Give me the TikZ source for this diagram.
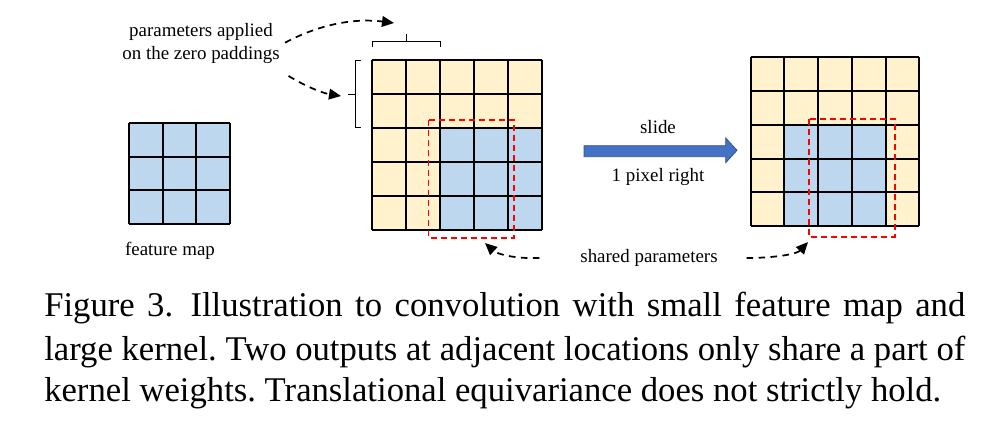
\documentclass[tikz,border=0pt]{standalone}
\usepackage{fontspec}
\setmainfont{Liberation Serif}
\usetikzlibrary{arrows.meta}
\definecolor{padyellow}{HTML}{FFF2CC}
\definecolor{featblue}{HTML}{BDD7EE}
\definecolor{arrowblue}{HTML}{4472C4}
\definecolor{arrowedge}{HTML}{2F528F}
\definecolor{kernred}{HTML}{FF0000}
\begin{document}
\frenchspacing
\begin{tikzpicture}[x=0.75pt,y=-0.75pt,
  gridline/.style={line width=1.5pt,black},
  kernbox/.style={draw=kernred,line width=1.2pt,dash pattern=on 4.5pt off 3pt},
  pointer/.style={draw=black,line width=1.3pt,dash pattern=on 5pt off 4pt,
                  -{Triangle[length=9pt,width=8pt]}},
  brace/.style={draw=black,line width=0.6pt},
  label/.style={font=\fontsize{14.2pt}{17pt}\selectfont,inner sep=0pt,anchor=base},
  captionline/.style={font=\fontsize{26pt}{30pt}\selectfont,inner sep=0pt,anchor=base west}]
\useasboundingbox (0,0) rectangle (996,440);

% ---------- feature map (3x3) ----------
\fill[featblue] (129,123) rectangle (230,224);
\foreach \i in {0,...,3} {
  \draw[gridline] ({129+\i*33.67},123) -- ({129+\i*33.67},224);
  \draw[gridline] (129,{123+\i*33.67}) -- (230,{123+\i*33.67});
}
\node[label] (fm) at (170,255.5) {feature map};

% ---------- middle 5x5 kernel ----------
\fill[padyellow] (371.7,60) rectangle (541.7,230);
\fill[featblue] (439.7,128) rectangle (541.7,230);
\foreach \i in {0,...,5} {
  \draw[gridline] ({371.7+\i*34},60) -- ({371.7+\i*34},230);
  \draw[gridline] (371.7,{60+\i*34}) -- (541.7,{60+\i*34});
}
\draw[kernbox] (428.3,120) rectangle (513.7,237.7);
\coordinate (kernA) at (485,243);

% braces
\draw[brace] (372,47) -- (372,41.7) -- (440,41.7) -- (440,47);
\draw[brace] (406,41.7) -- (406,34);
\coordinate (braceTop) at (394,23);
\draw[brace] (361,60) -- (355,60) -- (355,127) -- (361,127);
\draw[brace] (355,94) -- (348,94);
\coordinate (braceLeft) at (341,96);

% ---------- right 5x5 kernel ----------
\fill[padyellow] (750.7,57.3) rectangle (919.3,226);
\fill[featblue] (784.4,124.7) rectangle (885.5,226);
\foreach \i in {0,...,5} {
  \draw[gridline] ({750.7+\i*33.72},57.3) -- ({750.7+\i*33.72},226);
  \draw[gridline] (750.7,{57.3+\i*33.74}) -- (919.3,{57.3+\i*33.74});
}
\draw[kernbox] (809,119) rectangle (895,236.7);
\coordinate (kernB) at (808,242);

% ---------- slide arrow ----------
\draw[fill=arrowblue,draw=arrowedge,line width=0.6pt]
  (584,145.7) -- (725.7,145.7) -- (725.7,138) -- (737,150.3) -- (725.7,162.7)
  -- (725.7,156.7) -- (584,156.7) -- cycle;
\node[label] (slide) at (658,133) {slide};
\node[label] (pix) at (658,181.5) {1 pixel right};

% ---------- labels and pointers ----------
\node[label] (pa1) at (201,36.7) {parameters applied};
\node[label] (pa2) at (201,59.3) {on the zero paddings};
\node[label] (sp) at (649,262.5) {shared parameters};

\draw[pointer] ([xshift=9pt,yshift=-4.5pt]pa1.base east) .. controls (320,24) and (355,18) .. (braceTop);
\draw[pointer] ([xshift=6.5pt,yshift=-12.5pt]pa2.base east) .. controls (305,86) and (322,93) .. (braceLeft);
\draw[pointer] ([xshift=-30.5pt,yshift=3.4pt]sp.base west) .. controls (515,259) and (497,254) .. (kernA);
\draw[pointer] ([xshift=21.5pt,yshift=3.4pt]sp.base east) .. controls (775,258) and (797,254) .. (kernB);

% ---------- caption ----------
\node[captionline] (cap1) at (44,316) {\makebox[690.75pt][s]{Figure 3.\hspace{0.5em}Illustration to convolution with small feature map and}};
\node[captionline] (cap2) at (44,360) {\makebox[690.75pt][s]{large kernel. Two outputs at adjacent locations only share a part of}};
\node[captionline] (cap3) at (44,401.7) {kernel weights. Translational equivariance does not strictly hold.};
\end{tikzpicture}
\end{document}
